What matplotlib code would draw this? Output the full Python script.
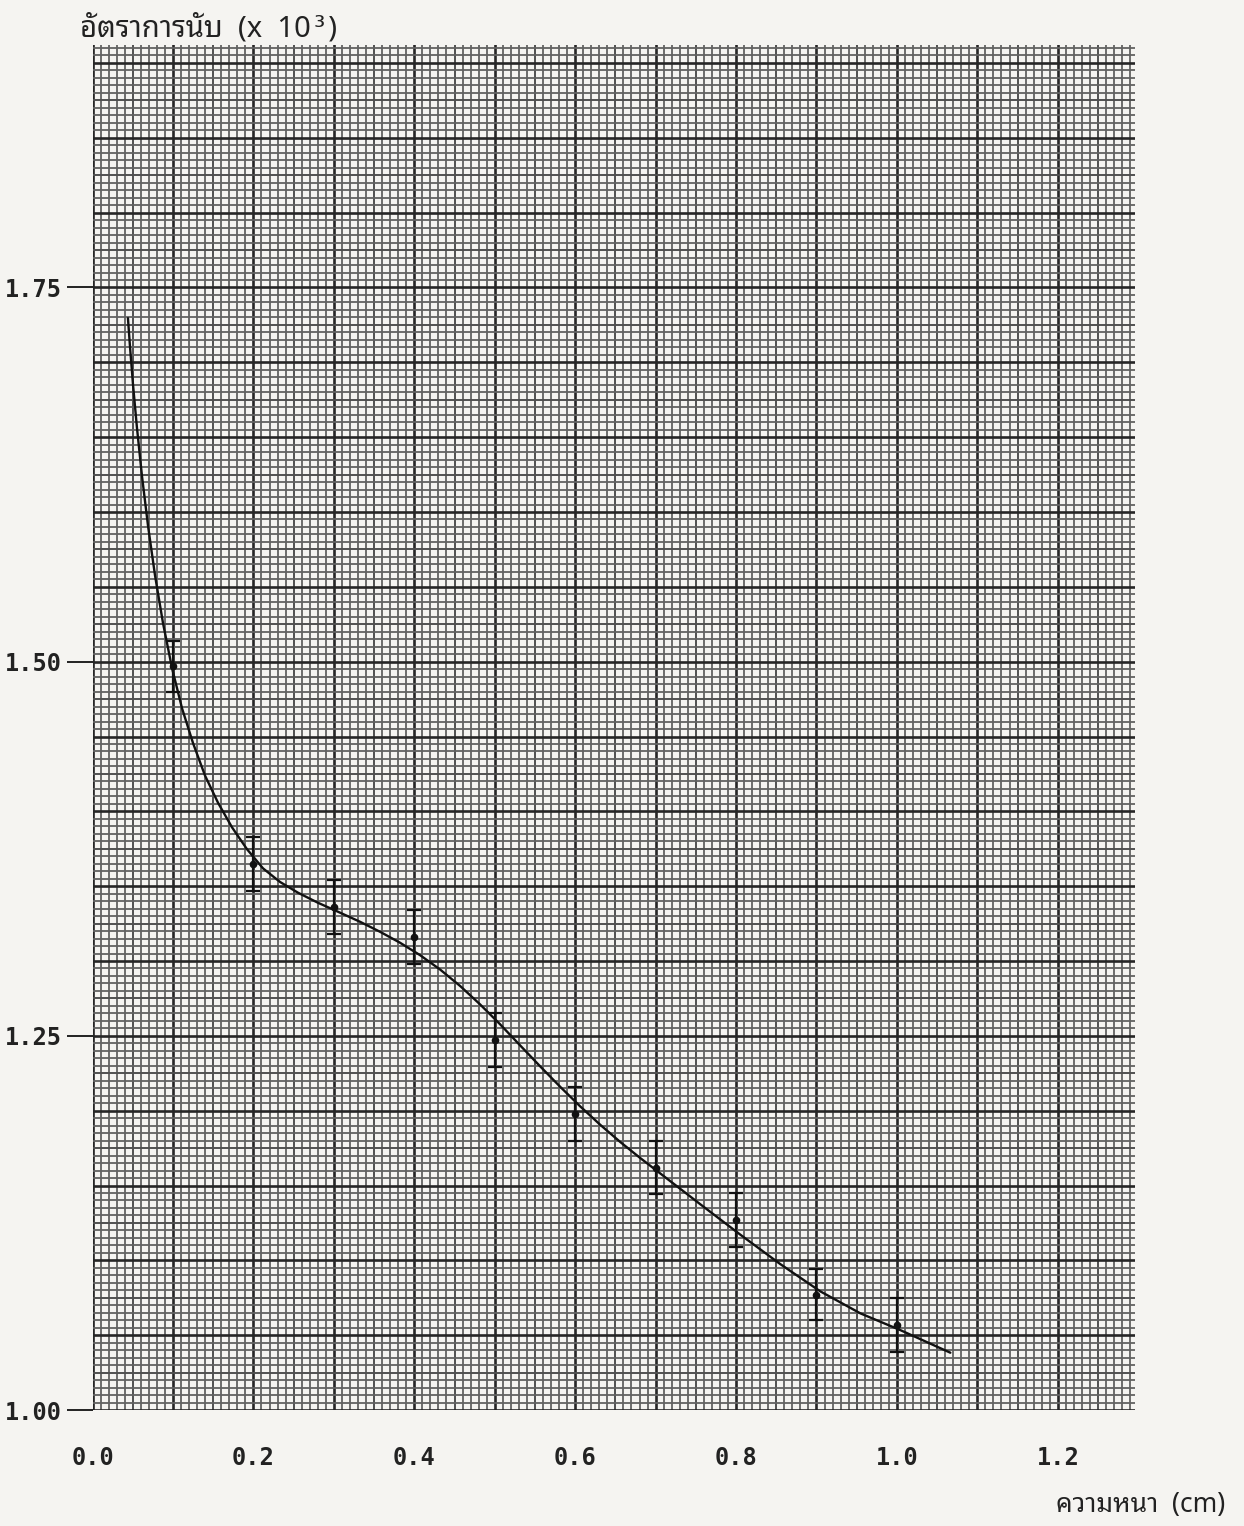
import matplotlib
matplotlib.use('Agg')
import matplotlib.pyplot as plt
from matplotlib import font_manager, ft2font

# ค่าที่อ่านจากกราฟ (ความหนา cm, อัตราการนับ x10^3)
thickness = [0.1, 0.2, 0.3, 0.4, 0.5, 0.6, 0.7, 0.8, 0.9, 1.0]
count_rate = [1.497, 1.365, 1.336, 1.316, 1.247, 1.198, 1.162, 1.127, 1.077, 1.057]
count_err = [0.017, 0.018, 0.018, 0.018, 0.018, 0.018, 0.018, 0.018, 0.017, 0.018]

# เส้นโค้งที่ลากด้วยมือ (อ่านทีละจุดตามเส้น)
fit_x = [0.0440, 0.0465, 0.0502, 0.0552, 0.0614, 0.0689, 0.0776, 0.0876, 0.0988,
         0.1112, 0.1249, 0.1398, 0.1560, 0.1734, 0.1920, 0.2119, 0.2331, 0.2555,
         0.2803, 0.3052, 0.3326, 0.3575, 0.3823, 0.4072, 0.4321, 0.4570, 0.4818,
         0.5067, 0.5316, 0.5565, 0.5813, 0.6062, 0.6311, 0.6560, 0.6808, 0.7057,
         0.7555, 0.8052, 0.8550, 0.9047, 0.9545, 1.0042, 1.0664]
fit_y = [1.7295, 1.7108, 1.6857, 1.6563, 1.6242, 1.5910, 1.5578, 1.5257, 1.4957,
         1.4689, 1.4456, 1.4239, 1.4057, 1.3893, 1.3747, 1.3619, 1.3528, 1.3456,
         1.3389, 1.3329, 1.3262, 1.3195, 1.3122, 1.3039, 1.2943, 1.2833, 1.2710,
         1.2577, 1.2436, 1.2296, 1.2160, 1.2029, 1.1906, 1.1791, 1.1684, 1.1581,
         1.1375, 1.1172, 1.0975, 1.0793, 1.0646, 1.0534, 1.0383]

y_ticks = [1.00, 1.25, 1.50, 1.75]
y_ticklabels = ['1.00', '1.25', '1.50', '1.75']
x_ticks = [0.0, 0.2, 0.4, 0.6, 0.8, 1.0, 1.2]
x_ticklabels = ['0.0', '0.2', '0.4', '0.6', '0.8', '1.0', '1.2']


def has_thai(path):
    try:
        return 0x0E2D in ft2font.FT2Font(path).get_charmap()
    except Exception:
        return False


# หาฟอนต์ที่มีอักษรไทย ชอบแบบมีหัวก่อน
thai_fonts = sorted({fe.name for fe in font_manager.fontManager.ttflist if has_thai(fe.fname)})
prefer = ['Noto Sans Thai Looped', 'Sarabun', 'Niramit', 'Krub', 'K2D', 'Noto Serif Thai',
          'Noto Sans Thai']
thai_pick = [f for f in prefer if f in thai_fonts][:1] or thai_fonts[:1]
text_family = thai_pick + ['DejaVu Sans Mono', 'DejaVu Sans']

paper = '#f5f4f1'
fig = plt.figure(figsize=(12.44, 15.26), dpi=100, facecolor=paper)
ax = fig.add_axes([0.0744, 0.076, 0.838, 0.8945])
ax.set_facecolor(paper)
ax.set_xlim(0, 1.296)
ax.set_ylim(1.00, 1.912)

# กระดาษกราฟ: เส้นย่อย / เส้นกลาง / เส้นหลัก
for i in range(130):
    xv = i * 0.01
    if i % 10 == 0:
        ax.axvline(xv, color='#262626', lw=1.9, zorder=1)
    elif i % 5 == 0:
        ax.axvline(xv, color='#505050', lw=1.4, zorder=1)
    else:
        ax.axvline(xv, color='#626262', lw=1.3, zorder=1)
for i in range(183):
    yv = 1.0 + i * 0.005
    if i % 10 == 0:
        ax.axhline(yv, color='#262626', lw=1.9, zorder=1)
    elif i % 5 == 0:
        ax.axhline(yv, color='#505050', lw=1.4, zorder=1)
    else:
        ax.axhline(yv, color='#626262', lw=1.3, zorder=1)

for s in ax.spines.values():
    s.set_visible(False)

ax.plot(fit_x, fit_y, color='#111111', lw=1.7, zorder=3,
        solid_joinstyle='round', solid_capstyle='round')
ax.errorbar(thickness, count_rate, yerr=count_err, fmt='o', ms=4.5,
            color='#111111', ecolor='#111111', elinewidth=1.6, capsize=5,
            capthick=1.6, zorder=4)

ax.set_yticks(y_ticks)
ax.set_yticklabels(y_ticklabels, family='DejaVu Sans Mono', fontsize=17, fontweight='bold')
ax.set_xticks(x_ticks)
ax.set_xticklabels(x_ticklabels, family='DejaVu Sans Mono', fontsize=17, fontweight='bold')
ax.tick_params(axis='y', length=19, width=1.4, pad=3, colors='#222222')
ax.tick_params(axis='x', length=0, pad=26, colors='#222222')

fig.text(0.064, 0.981, 'อัตราการนับ  (x  10³)', family=text_family, fontsize=21,
         ha='left', va='center', color='#222222')
fig.text(0.985, 0.014, 'ความหนา  (cm)', family=text_family, fontsize=19,
         fontweight='bold', ha='right', va='center', color='#222222')

fig.savefig('out.png', dpi=100, facecolor=fig.get_facecolor())
